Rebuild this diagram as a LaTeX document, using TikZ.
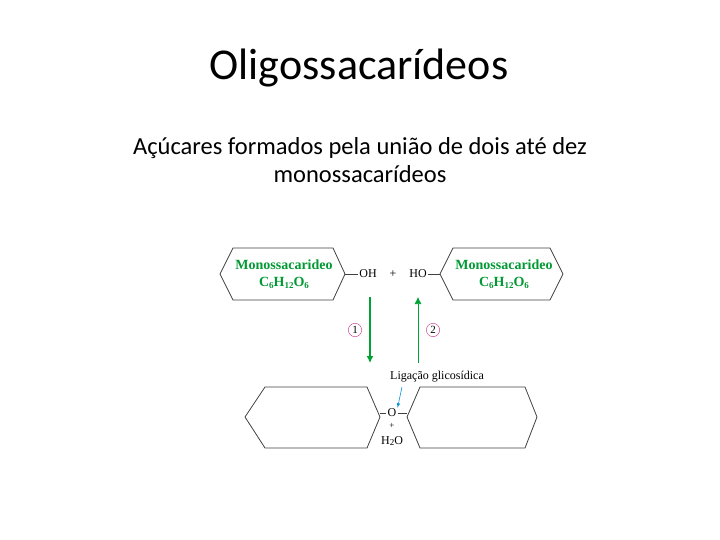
\documentclass[tikz,border=0pt]{standalone}
\usepackage{fontspec}
\usetikzlibrary{arrows.meta}
\setmainfont{Liberation Serif}
\newfontfamily\calib{Carlito}
\newcommand{\sbs}[1]{\raisebox{-0.35ex}{\fontsize{9}{10}\selectfont #1}}
\begin{document}
\begin{tikzpicture}[x=1pt,y=-1pt,
  hex/.style={draw=black!75,line width=0.8pt},
  grn/.style={text=green!50!black!80!cyan, font=\bfseries\fontsize{14}{17}\selectfont},
  chem/.style={font=\fontsize{12}{14}\selectfont},
  arr/.style={draw=green!55!black!80!cyan,line width=1.2pt,-{Latex[length=7pt,width=7pt]}},
  num/.style={circle,draw=magenta!80!black,inner sep=1.5pt,font=\fontsize{11}{12}\selectfont}]
\useasboundingbox (0,0) rectangle (720,540);
\node[font=\calib\fontsize{44}{48}\selectfont] (title) at (359,68) {Oligossacarídeos};
\node[font=\calib\fontsize{24.5}{28}\selectfont,align=center] (sub) at (360,160) {Açúcares formados pela união de dois até dez\\monossacarídeos};
% top hexagons
\draw[hex] (220,274)--(233,248)--(333,248)--(345,274)--(333,300)--(233,300)--cycle;
\draw[hex] (440,274)--(453,248)--(550,248)--(563,274)--(550,300)--(453,300)--cycle;
\node[grn,align=center] (m1) at (284,274) {Monossacarideo\\C\sbs{6}H\sbs{12}O\sbs{6}};
\node[grn,align=center] (m2) at (504,274) {Monossacarideo\\C\sbs{6}H\sbs{12}O\sbs{6}};
\node[chem,inner sep=1pt] (oh) at (368,274) {OH};
\node[chem] (pl) at (393,274) {+};
\node[chem,inner sep=1pt] (ho) at (418,274) {HO};
\draw[hex] (345,274)--(oh.west);
\draw[hex] (ho.east)--(440,274);
% arrows
\coordinate (a1s) at (370,297); \coordinate (a1e) at (370,363);
\coordinate (a2s) at (418,363); \coordinate (a2e) at (418,297);
\draw[arr] (a1s)--(a1e);
\draw[arr,line width=0.7pt] (a2s)--(a2e);
\node[num] (n1) at (355,330) {1};
\node[num] (n2) at (433,330) {2};
\node[chem,font=\fontsize{12}{14}\selectfont] (lig) at (437,377) {Ligação glicosídica};
% bottom
\draw[hex] (245,417)--(265,387)--(367,387)--(380,417)--(367,448)--(265,448)--cycle;
\draw[hex] (407,417)--(420,387)--(525,387)--(537,417)--(525,448)--(420,448)--cycle;
\node[chem,inner sep=1pt] (o) at (392,413) {O};
\draw[hex] (380,413)--(o.west);
\draw[hex] (o.east)--(407,413);
\node[chem,font=\fontsize{9}{10}\selectfont] (p2) at (392,426) {+};
\node[chem] (h2o) at (392,441) {H\sbs{2}O};
\coordinate (bl) at (402,387);
\draw[cyan!80!blue,line width=0.6pt,-latex] (bl)--(o.north east);
\end{tikzpicture}
\end{document}
